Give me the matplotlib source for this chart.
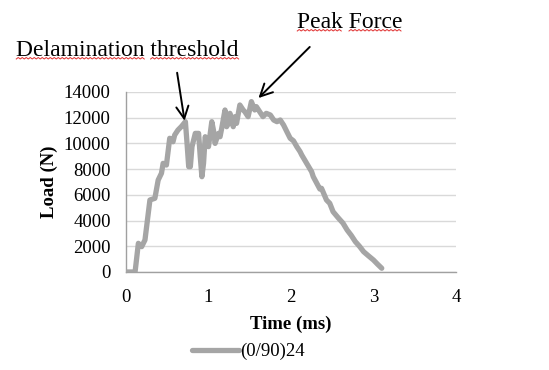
import numpy as np
import matplotlib
matplotlib.use('Agg')
import matplotlib.pyplot as plt

# === Daten ===
time_ms = [0.01, 0.11, 0.15, 0.19, 0.23, 0.29, 0.35, 0.39, 0.43, 0.45, 0.49, 0.53,
           0.57, 0.59, 0.63, 0.67, 0.72, 0.74, 0.76, 0.78, 0.80, 0.84, 0.88, 0.90,
           0.92, 0.94, 0.96, 1.00, 1.04, 1.06, 1.08, 1.12, 1.14, 1.16, 1.20, 1.22,
           1.24, 1.26, 1.30, 1.32, 1.34, 1.38, 1.42, 1.44, 1.48, 1.52, 1.56, 1.58,
           1.62, 1.66, 1.70, 1.75, 1.79, 1.83, 1.87, 1.91, 1.95, 1.99, 2.03, 2.07,
           2.11, 2.13, 2.19, 2.25, 2.27, 2.35, 2.37, 2.43, 2.47, 2.51, 2.57, 2.63,
           2.68, 2.73, 2.78, 2.83, 2.88, 2.94, 3.00, 3.05, 3.10]
load_n = [0, 0, 2230, 1970, 2490, 5600, 5730, 7150, 7680, 8450, 8320, 10400,
          10130, 10650, 11040, 11300, 11690, 10000, 8190, 8190, 9750, 10780, 10780, 8970,
          7410, 8450, 10520, 9750, 11690, 11040, 10000, 10780, 10520, 11170, 12600, 11300,
          11560, 12340, 11300, 12080, 11560, 12990, 12600, 12470, 12080, 13250, 12600, 12860,
          12470, 12080, 12340, 12210, 11820, 11690, 11820, 11430, 10910, 10400, 10200, 9750,
          9360, 9100, 8450, 7800, 7410, 6450, 6510, 5600, 5340, 4690, 4230, 3800,
          3270, 2850, 2360, 2000, 1580, 1250, 930, 600, 290]
series_name = '(0/90)24'
x_ticks = [0, 1, 2, 3, 4]
y_ticks = [0, 2000, 4000, 6000, 8000, 10000, 12000, 14000]

SERIF = ['Liberation Serif', 'DejaVu Serif']
GRAU = '#A5A5A5'
FS = 13.5      # Achsen / Legende
FS_ANNO = 17   # Pfeil-Texte

fig = plt.figure(figsize=(5.49, 3.70), dpi=100)
ax = fig.add_axes([0.2295, 0.2649, 0.6011, 0.4865])

ax.plot(time_ms, load_n, color=GRAU, lw=3.8, solid_capstyle='round',
        solid_joinstyle='round', label=series_name, zorder=3)

ax.set_xlim(0, 4)
ax.set_ylim(0, 14000)
ax.set_xticks(x_ticks)
ax.set_yticks(y_ticks)
ax.set_xticklabels([str(t) for t in x_ticks], family=SERIF, fontsize=FS)
ax.set_yticklabels([str(t) for t in y_ticks], family=SERIF, fontsize=FS)
ax.tick_params(length=0)
ax.tick_params(axis='x', pad=12)
ax.tick_params(axis='y', pad=11)
ax.grid(axis='y', color='#D9D9D9', lw=1)
ax.set_axisbelow(True)
for s in ['top', 'right']:
    ax.spines[s].set_visible(False)
for s in ['left', 'bottom']:
    ax.spines[s].set_color('#A0A0A0')
    ax.spines[s].set_linewidth(1)

ax.set_xlabel('Time (ms)', family=SERIF, fontsize=FS, fontweight='bold', labelpad=7)
ax.set_ylabel('Load (N)', family=SERIF, fontsize=FS, fontweight='bold', labelpad=4)

# Legende unten
fig.legend(loc='center', bbox_to_anchor=(0.452, 0.05), frameon=False,
           prop={'family': SERIF, 'size': FS}, handlelength=2.5, handletextpad=0.05)

# Pfeil-Beschriftungen (Pixel -> Figur-Koordinaten)
W, H = 549.0, 370.0
def fp(x, y):
    return (x / W, 1 - y / H)

annos = [
    ('Delamination threshold', fp(127.5, 50), fp(176.7, 70), fp(185, 123.5)),
    ('Peak Force', fp(350, 22), fp(311.7, 45), fp(256.5, 100)),
]
texte = []
for label, txy, tail, head in annos:
    t = fig.text(txy[0], txy[1], label, family=SERIF, fontsize=FS_ANNO,
                 ha='center', va='center')
    texte.append(t)
    ax.annotate('', xy=head, xycoords='figure fraction', xytext=tail,
                textcoords='figure fraction',
                arrowprops=dict(arrowstyle='->', color='black', lw=1.4,
                                mutation_scale=22))

# rote Rechtschreib-Wellenlinien unter jedem Wort
fig.canvas.draw()
r = fig.canvas.get_renderer()
for t in texte:
    bb = t.get_window_extent(r)
    words = t.get_text().split(' ')
    x0 = bb.x0
    for i, w in enumerate(words):
        tmp = fig.text(0, 0, w, family=SERIF, fontsize=FS_ANNO)
        ww = tmp.get_window_extent(r).width
        tmp.remove()
        sp = fig.text(0, 0, w + ' ' + w, family=SERIF, fontsize=FS_ANNO)
        space = sp.get_window_extent(r).width - 2 * ww
        sp.remove()
        xs = np.arange(x0, x0 + ww, 2.0)
        ys = bb.y0 + 1.5 + np.where(np.arange(len(xs)) % 2 == 0, 0.0, 1.5)
        fig.add_artist(plt.Line2D(xs / W, ys / H, color='#E03030', lw=0.7))
        x0 += ww + space

fig.savefig('out.png', dpi=100)
